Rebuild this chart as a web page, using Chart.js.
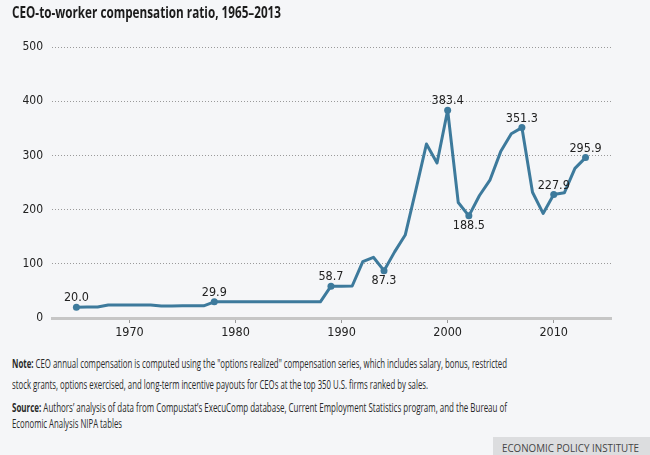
<!DOCTYPE html>
<html>
<head>
<meta charset="utf-8">
<script src="https://cdn.jsdelivr.net/npm/chart.js@4.4.1/dist/chart.umd.min.js"></script>
<style>
  body { margin: 0; width: 650px; height: 455px; overflow: hidden; position: relative;
         background: #f5f6f8; font-family: "Open Sans", sans-serif; color: #222; }
  .fit { position: absolute; left: 12px; white-space: nowrap; transform-origin: 0 0; line-height: 1; }
  #title { top: 3.8px; font-size: 16.5px; font-weight: bold; color: #1b1b1b; }
  .note { font-size: 12px; color: #2a2a2a; }
  #chartBox { position: absolute; left: 0; top: 0; width: 650px; height: 345px; }
  #epiBox { position: absolute; left: 493px; top: 437px; width: 157px; height: 18px; background: #dcdddf; }
  #epi { left: 502px; top: 442.4px; font-size: 11.2px; color: #444; }
</style>
</head>
<body>
<div id="chartBox"><canvas id="myChart"></canvas></div>
<div id="title" class="fit" data-w="269">CEO-to-worker compensation ratio, 1965–2013</div>
<div class="fit note" style="top:357.8px" data-w="495"><b>Note:</b> CEO annual compensation is computed using the "options realized" compensation series, which includes salary, bonus, restricted</div>
<div class="fit note" style="top:378.5px" data-w="416">stock grants, options exercised, and long-term incentive payouts for CEOs at the top 350 U.S. firms ranked by sales.</div>
<div class="fit note" style="top:401.8px" data-w="495"><b>Source:</b> Authors’ analysis of data from Compustat’s ExecuComp database, Current Employment Statistics program, and the Bureau of</div>
<div class="fit note" style="top:417.8px" data-w="110">Economic Analysis NIPA tables</div>
<div id="epiBox"></div>
<div id="epi" class="fit" data-w="137">ECONOMIC POLICY INSTITUTE</div>

<script>
// squeeze text to the condensed widths of the original
document.querySelectorAll('.fit').forEach(function (el) {
    const w = el.getBoundingClientRect().width;
    el.style.transform = 'scaleX(' + (Number(el.dataset.w) / w) + ')';
});

const years = [1965, 1966, 1967, 1968, 1969, 1970, 1971, 1972, 1973, 1974,
               1975, 1976, 1977, 1978, 1979, 1980, 1981, 1982, 1983, 1984,
               1985, 1986, 1987, 1988, 1989, 1990, 1991, 1992, 1993, 1994,
               1995, 1996, 1997, 1998, 1999, 2000, 2001, 2002, 2003, 2004,
               2005, 2006, 2007, 2008, 2009, 2010, 2011, 2012, 2013];
const ratio = [20.0, 20.1, 20.3, 23.9, 24.0, 24.1, 24.0, 24.0, 22.3, 22.3,
               22.4, 22.4, 22.5, 29.9, 29.9, 29.9, 29.9, 29.9, 29.9, 29.9,
               29.9, 29.9, 29.9, 29.9, 58.7, 58.8, 59.0, 104.0, 112.0, 87.3,
               122.0, 153.0, 236.0, 321.0, 286.0, 383.4, 213.0, 188.5, 226.0, 255.0,
               307.0, 340.0, 351.3, 232.0, 193.0, 227.9, 231.0, 276.0, 295.9];
const labelYears = [1965, 1978, 1989, 1994, 2000, 2002, 2007, 2010, 2013];
const labelBelow = [1994, 2002];
const yTicks = [0, 100, 200, 300, 400, 500];

const textFont = '"Liberation Sans Narrow", "DejaVu Sans Condensed", "Open Sans", sans-serif';

const pointLabels = {
    id: 'pointLabels',
    afterDatasetsDraw(chart) {
        const ctx = chart.ctx;
        const meta = chart.getDatasetMeta(0);
        ctx.save();
        ctx.font = '12.5px ' + textFont;
        ctx.fillStyle = '#222';
        ctx.textAlign = 'center';
        ctx.textBaseline = 'middle';
        meta.data.forEach(function (pt, i) {
            if (!labelYears.includes(years[i])) return;
            const dy = labelBelow.includes(years[i]) ? 10 : -9;
            ctx.fillText(ratio[i].toFixed(1), pt.x, pt.y + dy);
        });
        ctx.restore();
    }
};

const data = {
    datasets: [{
        label: 'CEO-to-worker compensation ratio',
        data: years.map(function (y, i) { return { x: y, y: ratio[i] }; }),
        borderColor: '#3d7a9c',
        backgroundColor: '#3d7a9c',
        borderWidth: 3,
        borderJoinStyle: 'round',
        tension: 0,
        pointRadius: function (c) { return labelYears.includes(years[c.dataIndex]) ? 3.5 : 0; },
        pointBorderWidth: 0,
        pointHoverRadius: 0
    }]
};

const config = {
    type: 'line',
    data: data,
    options: {
        responsive: true,
        maintainAspectRatio: false,
        animation: false,
        events: [],
        layout: { padding: { left: 0, right: 39, top: 47, bottom: 0 } },
        plugins: { legend: { display: false }, tooltip: { enabled: false } },
        scales: {
            x: {
                type: 'linear',
                min: 1962.7,
                max: 2015.4,
                afterBuildTicks: function (scale) {
                    const t = [];
                    for (let y = 1963; y <= 2015; y++) t.push({ value: y });
                    scale.ticks = t;
                },
                afterFit: function (scale) { scale.height = 27; },
                ticks: {
                    autoSkip: false,
                    maxRotation: 0,
                    padding: 2,
                    color: '#222',
                    font: { family: textFont, size: 12.5 },
                    callback: function (v) { return v % 10 === 0 ? String(v) : ''; }
                },
                grid: {
                    drawOnChartArea: false,
                    tickLength: 5,
                    color: function (c) { return c.tick && c.tick.value % 10 === 0 ? '#999' : 'rgba(0,0,0,0)'; }
                },
                border: { display: true, color: '#c6c6c6', width: 3 }
            },
            y: {
                min: 0,
                max: 500,
                afterBuildTicks: function (scale) {
                    scale.ticks = yTicks.map(function (v) { return { value: v }; });
                },
                afterFit: function (scale) { scale.width = 52; },
                ticks: {
                    padding: 9,
                    color: '#222',
                    font: { family: textFont, size: 12 }
                },
                grid: { drawTicks: false, color: '#9a9a9a', lineWidth: 1 },
                border: { display: false, dash: [1, 2] }
            }
        }
    },
    plugins: [pointLabels]
};

new Chart(document.getElementById('myChart').getContext('2d'), config);
</script>
</body>
</html>
